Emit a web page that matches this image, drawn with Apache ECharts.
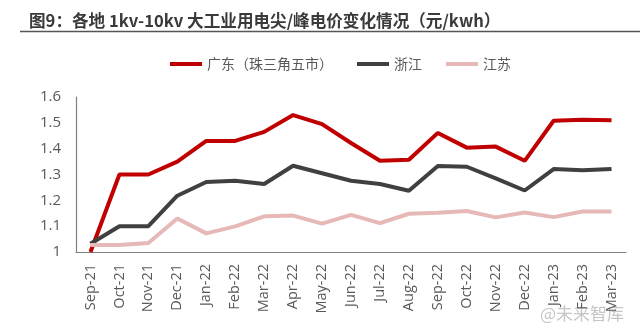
<!DOCTYPE html>
<html><head><meta charset="utf-8">
<script src="https://cdn.jsdelivr.net/npm/echarts@6/dist/echarts.min.js"></script>
<style>html,body{margin:0;padding:0;background:#fff}#c{width:640px;height:335px}</style>
</head><body><div id="c"></div>
<script>
const categories = ["Sep-21","Oct-21","Nov-21","Dec-21","Jan-22","Feb-22","Mar-22","Apr-22","May-22","Jun-22","Jul-22","Aug-22","Sep-22","Oct-22","Nov-22","Dec-22","Jan-23","Feb-23","Mar-23"];
const guangdong = [1.00,1.30,1.30,1.35,1.43,1.43,1.465,1.53,1.495,1.422,1.353,1.357,1.461,1.404,1.408,1.353,1.508,1.512,1.510];
const zhejiang = [1.032,1.10,1.10,1.218,1.271,1.276,1.263,1.334,1.305,1.276,1.263,1.237,1.333,1.330,1.285,1.238,1.321,1.316,1.321];
const jiangsu = [1.027,1.027,1.035,1.130,1.072,1.099,1.138,1.141,1.110,1.144,1.112,1.148,1.152,1.159,1.134,1.153,1.135,1.157,1.157];
const seriesNames = ["广东（珠三角五市）","浙江","江苏"];
const titleText = "图9：各地 1kv-10kv 大工业用电尖/峰电价变化情况（元/kwh）";

const chart = echarts.init(document.getElementById('c'));
const font = '"Open Sans","Noto Sans CJK SC",sans-serif';
const mk = (name, data, color) => ({
  name, type: 'line', data, symbol: 'none', smooth: false,
  lineStyle: { color, width: 4 }, itemStyle: { color }
});
chart.setOption({
  animation: false,
  title: {
    text: titleText, left: 29, top: 12, padding: 0,
    textStyle: { fontSize: 16.6, fontWeight: 'bold', color: '#3a3a3a', fontFamily: '"Noto Sans CJK SC",sans-serif' }
  },
  graphic: [
    { type: 'line', shape: { x1: 20, y1: 31.5, x2: 640, y2: 31.5 }, style: { stroke: '#555', lineWidth: 1.5 } },
    { type: 'text', left: 540, top: 305, style: { text: '@未来智库', fill: 'rgba(150,150,150,0.55)', font: '17px "Noto Sans CJK SC"' } }
  ],
  legend: {
    top: 57, left: 170, padding: 0, itemWidth: 32, itemHeight: 4, itemGap: 24,
    icon: 'rect',
    textStyle: { fontSize: 14, color: '#595959', fontFamily: '"Noto Sans CJK SC",sans-serif' },
    data: seriesNames
  },
  grid: { left: 76, right: 14, top: 97, bottom: 83, containLabel: false },
  xAxis: {
    type: 'category', data: categories, boundaryGap: true,
    axisLine: { lineStyle: { color: '#808080', width: 1.2 } },
    axisTick: { show: false },
    axisLabel: { rotate: 90, fontSize: 14.5, color: '#595959', margin: 12, fontFamily: font, interval: 0 }
  },
  yAxis: {
    type: 'value', min: 1, max: 1.6, interval: 0.1,
    splitLine: { show: false },
    axisLine: { show: true, lineStyle: { color: '#808080', width: 1.2 } },
    axisTick: { show: false },
    axisLabel: { fontSize: 15, color: '#595959', margin: 15, fontFamily: font,
      formatter: v => String(Math.round(v * 10) / 10) }
  },
  series: [
    mk(seriesNames[0], guangdong, '#C00000'),
    mk(seriesNames[1], zhejiang, '#404040'),
    mk(seriesNames[2], jiangsu, '#E6B9B8')
  ]
});
</script></body></html>
